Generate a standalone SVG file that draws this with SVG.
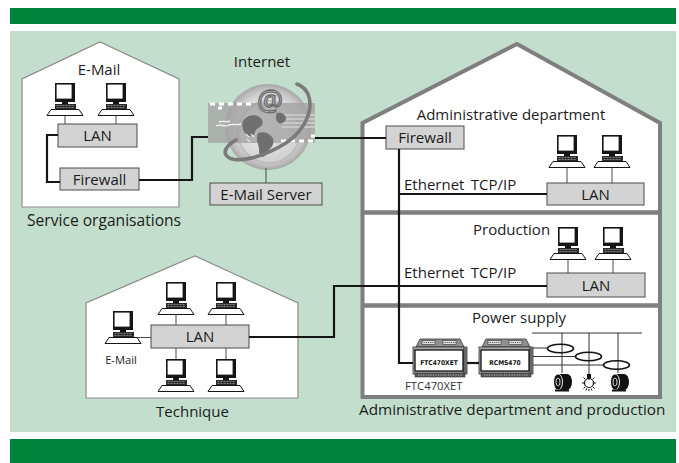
<svg xmlns="http://www.w3.org/2000/svg" xmlns:xlink="http://www.w3.org/1999/xlink" width="679" height="463" viewBox="0 0 679 463">
  <defs>
    <style>
      .t{font-family:"Open Sans","Liberation Sans",Arial,sans-serif;font-size:15px;fill:#1c1c1c}
      .mid{text-anchor:middle}
      .house{fill:#fff;stroke:#8c8c8c;stroke-width:1.2}
      .bldg{fill:#fff;stroke:#7f7f7f;stroke-width:4}
      .box{fill:#d3d3d3;stroke:#4d4d4d;stroke-width:1}
      .link{fill:none;stroke:#151515;stroke-width:2.2}
      .tap{fill:none;stroke:#4a4a4a;stroke-width:1}
      .wire{fill:none;stroke:#333;stroke-width:1}
      .ct{fill:none;stroke:#111;stroke-width:1.6}
      .devtxt{font-family:"DejaVu Sans Condensed","DejaVu Sans",sans-serif;font-weight:bold;font-size:6.6px;fill:#111;text-anchor:middle}
    </style>
    <radialGradient id="disk" cx="0.5" cy="0.5" r="0.5">
      <stop offset="0.62" stop-color="#e4e4e4"/>
      <stop offset="0.8" stop-color="#cdcdcd"/>
      <stop offset="0.92" stop-color="#b9b9b9"/>
      <stop offset="1" stop-color="#a6a6a6"/>
    </radialGradient>
    <radialGradient id="sphere" cx="0.4" cy="0.35" r="0.7">
      <stop offset="0" stop-color="#f2f2f2"/>
      <stop offset="1" stop-color="#cfcfcf"/>
    </radialGradient>
    <!-- workstation: monitor, keyboard, desk plate; origin = monitor top-left -->
    <g id="pc">
      <rect x="0" y="0" width="20" height="19" fill="#151515"/>
      <rect x="1.6" y="1.6" width="15" height="14" fill="#fff"/>
      <rect x="7" y="19" width="6" height="2" fill="#151515"/>
      <rect x="0" y="21" width="21" height="5" fill="#2a2a2a"/>
      <path d="M1.5,22.5h18M1.5,24.5h18" stroke="#9a9a9a" stroke-width="0.8" stroke-dasharray="2 1"/>
      <path d="M-4,26.5H24L28,32.5H-8Z" fill="#fff" stroke="#151515" stroke-width="1"/>
    </g>
    <!-- DIN-rail module body -->
    <g id="dev">
      <path d="M3,9L7,1H47L51,9Z" fill="#8e8e8e" stroke="#333" stroke-width="0.8"/>
      <rect x="9" y="2.5" width="13" height="4" fill="#e0e0e0" stroke="#333" stroke-width="0.6"/>
      <rect x="30" y="2.5" width="13" height="4" fill="#e0e0e0" stroke="#333" stroke-width="0.6"/>
      <path d="M10.5,4.5h10M31.5,4.5h10" stroke="#555" stroke-width="1.2" stroke-dasharray="1.2 1"/>
      <rect x="0" y="9" width="54" height="27" fill="#a9a9a9" stroke="#333" stroke-width="0.8"/>
      <rect x="50" y="9" width="4" height="27" fill="#666"/>
      <rect x="2" y="12" width="48" height="21" fill="#fff" stroke="#111" stroke-width="1.3"/>
      <rect x="2" y="35" width="50" height="4" fill="#555" stroke="#333" stroke-width="0.6"/>
      <path d="M5,37h44" stroke="#bbb" stroke-width="1" stroke-dasharray="1.2 1.3"/>
    </g>
    <g id="motor">
      <path d="M-3,1H6A5,8 0 0 1 6,17H-3Z" fill="#111"/>
      <ellipse cx="-3" cy="9" rx="4.5" ry="8" fill="#111" stroke="#fff" stroke-width="0.9"/>
      <ellipse cx="-3" cy="9" rx="2" ry="4" fill="none" stroke="#fff" stroke-width="0.8"/>
      <path d="M-6,17.5H8" stroke="#111" stroke-width="2"/>
    </g>
    <g id="lamp">
      <rect x="-2" y="0" width="4" height="4" fill="#111"/>
      <circle cx="0" cy="9" r="4.5" fill="#fff" stroke="#111" stroke-width="1.2"/>
      <path d="M0,3V6M-7,9H-5M5,9H7M-5.5,3.5L-4,5M5.5,3.5L4,5M-5.5,14.5L-4,13M5.5,14.5L4,13M0,15V17M-3,16.5L-2.2,14.5M3,16.5L2.2,14.5" stroke="#111" stroke-width="1"/>
    </g>
  </defs>

  <!-- frame -->
  <g id="frame">
    <rect x="10" y="8" width="666" height="16" fill="#00823c"/>
    <rect x="10" y="31" width="666" height="401" fill="#c3decd"/>
    <rect x="10" y="439" width="666" height="24" fill="#00823c"/>
  </g>

  <!-- service organisations -->
  <g id="service-organisations">
    <path class="house" d="M22,207V79L100,42L179,79V207Z"/>
    <text class="t mid" x="99" y="75">E-Mail</text>
    <use xlink:href="#pc" x="55" y="83"/>
    <use xlink:href="#pc" x="106" y="83"/>
    <path class="tap" d="M65,115.5V124M116,115.5V124"/>
    <rect class="box" x="58" y="124" width="79" height="23"/>
    <text class="t mid" x="97.5" y="141">LAN</text>
    <rect class="box" x="60" y="168" width="79" height="22"/>
    <text class="t mid" x="99.5" y="184.5">Firewall</text>
    <text class="t" x="27" y="226" style="font-size:15.6px">Service organisations</text>
  </g>

  <!-- internet cloud with mail server -->
  <g id="internet">
    <text class="t mid" x="262" y="67">Internet</text>
    <circle cx="268" cy="127" r="43" fill="url(#disk)"/>
    <circle cx="269" cy="132" r="31" fill="url(#sphere)" stroke="#bdbdbd" stroke-width="2"/>
    <rect x="208" y="103" width="107" height="40" fill="#a4a4a4" opacity="0.8"/>
    <path d="M282,115H315M282,119H315M282,123H315M282,127H315" stroke="#cfcfcf" stroke-width="1.6"/>
    <path d="M210,104h5m4,0h5m4,0h5m4,0h5m4,0h5M218,108h4" stroke="#fff" stroke-width="3"/>
    <path d="M281,141h5m4,0h5m4,0h5m4,0h5M311,136h4" stroke="#fff" stroke-width="3"/>
    <path d="M216,126c5,-3 8,2 13,-1c4,-2 7,1 12,-1M219,122c4,-2 7,1 11,-1" stroke="#f2f2f2" stroke-width="1.4" fill="none"/>
    <path d="M243,121c3,-5 10,-7 15,-5c3,2 6,5 4,9c-2,3 -6,3 -7,7c-1,4 -5,5 -8,3c-3,-2 -6,-8 -4,-14z" fill="#6f6f6f"/>
    <path d="M258,133c5,-2 11,0 14,4c3,4 1,9 -2,12c-3,3 -4,7 -7,8c-3,0 -4,-4 -4,-8c0,-5 -4,-8 -1,-16z" fill="#6f6f6f"/>
    <path d="M277,113c4,-1 8,1 9,5c0,4 -4,6 -7,5c-3,-2 -4,-6 -2,-10z" fill="#6f6f6f"/>
    <path d="M246,134l3,3m2,-3l3,3m-7,2l3,3" stroke="#e8e8e8" stroke-width="1.2"/>
    <text x="270" y="111" style="font-family:'Open Sans','Liberation Sans',sans-serif;font-size:29px;text-anchor:middle;fill:#d2d2d2;stroke:#6c6c6c;stroke-width:1.3">@</text>
    <path d="M297,84C318,92 313,125 286,143C262,158 233,165 226,155C223,149 229,144 236,140" fill="none" stroke="#7a7a7a" stroke-width="3.6" stroke-linecap="round"/>
    <path class="tap" d="M266,168V183"/>
  </g>
  <g id="email-server">
    <rect class="box" x="210" y="183" width="112" height="22"/>
    <text class="t mid" x="266" y="199.5">E-Mail Server</text>
  </g>

  <!-- technique -->
  <g id="technique">
    <path class="house" d="M86,398V303L195,256L298,303V398Z"/>
    <use xlink:href="#pc" x="166" y="282"/>
    <use xlink:href="#pc" x="216" y="282"/>
    <use xlink:href="#pc" x="166" y="359"/>
    <use xlink:href="#pc" x="216" y="359"/>
    <use xlink:href="#pc" x="113" y="311"/>
    <path class="tap" d="M176,314.5V325M226,314.5V325M176,348V359M226,348V359M137,337.5H151"/>
    <rect class="box" x="151" y="325" width="98" height="23"/>
    <text class="t mid" x="200" y="341.5">LAN</text>
    <text class="t mid" x="121" y="364" style="font-size:11.2px">E-Mail</text>
    <text class="t mid" x="192.5" y="417">Technique</text>
  </g>

  <!-- administrative department and production -->
  <g id="site">
    <path class="bldg" d="M362.5,397V123L517,44L660,123V397Z"/>
    <path d="M362.5,212.5H660M362.5,305.5H660" stroke="#7f7f7f" stroke-width="4.5"/>
    <text class="t" x="359" y="415" style="font-size:15.3px">Administrative department and production</text>
  </g>
  <g id="administration">
    <text class="t mid" x="511" y="120">Administrative department</text>
    <rect class="box" x="386" y="126" width="78" height="23"/>
    <text class="t mid" x="425" y="142.5">Firewall</text>
    <use xlink:href="#pc" x="557" y="135"/>
    <use xlink:href="#pc" x="602" y="135"/>
    <path class="tap" d="M567,167.5V183M612,167.5V183"/>
    <rect class="box" x="547" y="183" width="97" height="22"/>
    <text class="t mid" x="595.5" y="199.5">LAN</text>
    <text class="t" x="404" y="190" style="word-spacing:2.5px">Ethernet TCP/IP</text>
  </g>
  <g id="production">
    <text class="t" x="473" y="235">Production</text>
    <use xlink:href="#pc" x="558" y="227"/>
    <use xlink:href="#pc" x="603" y="227"/>
    <path class="tap" d="M568,259.5V273M613,259.5V273"/>
    <rect class="box" x="547" y="273" width="98" height="24"/>
    <text class="t mid" x="596" y="290.5">LAN</text>
    <text class="t" x="404" y="278" style="word-spacing:2.5px">Ethernet TCP/IP</text>
  </g>
  <g id="power-supply">
    <text class="t" x="472" y="323">Power supply</text>
    <path class="wire" d="M532,333H642M562,333V373M589,333V374M618,333V373"/>
    <path class="wire" d="M532,348H548M532,356.5H576M532,365H604"/>
    <ellipse class="ct" cx="560.5" cy="348.5" rx="13" ry="4.3"/>
    <ellipse class="ct" cx="588.5" cy="356.5" rx="13" ry="4.3"/>
    <ellipse class="ct" cx="616.5" cy="365" rx="13" ry="4.3"/>
    <use xlink:href="#motor" x="561" y="373"/>
    <use xlink:href="#lamp" x="589" y="374"/>
    <use xlink:href="#motor" x="618" y="373"/>
  </g>
  <g id="ftc470xet">
    <use xlink:href="#dev" x="413" y="338"/>
    <text class="devtxt" x="439" y="364.5">FTC470XET</text>
    <text class="t" x="405" y="390" style="font-size:11.3px;fill:#333">FTC470XET</text>
  </g>
  <g id="rcms470">
    <use xlink:href="#dev" x="479" y="338"/>
    <text class="devtxt" x="505" y="364.5">RCMS470</text>
  </g>

  <!-- network links -->
  <g id="connectors">
    <path class="link" d="M58,135H47V182H60"/>
    <path class="link" d="M139,180H192V137H208"/>
    <path class="link" d="M315,138H386"/>
    <path class="link" d="M399,149V363H413"/>
    <path class="link" d="M399,194H547"/>
    <path class="link" d="M249,337H334V286H547"/>
    <path class="link" d="M467,363H479"/>
  </g>
</svg>
